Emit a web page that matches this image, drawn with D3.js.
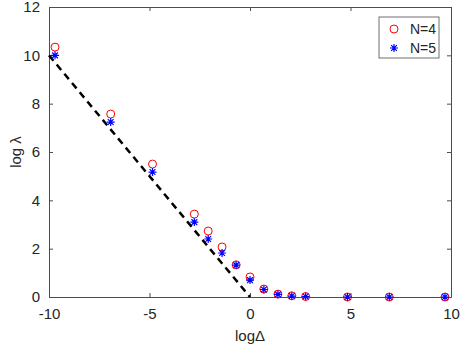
<!DOCTYPE html>
<html>
<head>
<meta charset="utf-8">
<script src="https://cdn.jsdelivr.net/npm/d3@7"></script>
<style>
  body { margin: 0; background: #fff; }
  text { font-family: "Liberation Sans", Arial, sans-serif; fill: #262626; }
</style>
</head>
<body>
<div id="chart"></div>
<script>
// data
var logDelta = [-9.70, -6.93, -4.85, -2.77, -2.08, -1.39, -0.69, 0, 0.69, 1.39, 2.08, 2.77, 4.85, 6.93, 9.70];
var lambdaN4 = [10.34, 7.57, 5.50, 3.43, 2.73, 2.07, 1.33, 0.83, 0.33, 0.12, 0.05, 0.02, 0.0, 0.0, 0.0];
var lambdaN5 = [10.00, 7.24, 5.17, 3.10, 2.40, 1.82, 1.32, 0.70, 0.31, 0.11, 0.04, 0.02, 0.0, 0.0, 0.0];
var slopeLine = [[-10, 10], [0, 0]];
var xTicks = [-10, -5, 0, 5, 10];
var yTicks = [0, 2, 4, 6, 8, 10, 12];

const W = 463, H = 348;
const PLOT_L = 49, PLOT_R = 451, PLOT_T = 7, PLOT_B = 297;
const TICK = 4;
const AXIS_COLOR = '#4d4d4d';
const FONT = '15px';

var svg = d3.select('#chart').append('svg')
            .attr('width', W)
            .attr('height', H);

var x = d3.scaleLinear().domain([-10, 10]).range([PLOT_L, PLOT_R]);
var y = d3.scaleLinear().domain([0, 12]).range([PLOT_B, PLOT_T]);

// plain hyphen minus, like the original
var fmt = d => String(d);

// axes box, ticks inside on all four sides
function styleAxis(g) {
  g.select('.domain').attr('stroke', AXIS_COLOR);
  g.selectAll('.tick line').attr('stroke', AXIS_COLOR);
  g.selectAll('.tick text').style('font-size', FONT).attr('fill', '#262626');
}

svg.append('g')
   .attr('transform', 'translate(0,' + PLOT_B + ')')
   .call(d3.axisBottom(x).tickValues(xTicks).tickFormat(fmt).tickSizeInner(-TICK).tickSizeOuter(0).tickPadding(11))
   .call(styleAxis);

svg.append('g')
   .attr('transform', 'translate(0,' + PLOT_T + ')')
   .call(d3.axisTop(x).tickValues(xTicks).tickSizeInner(-TICK).tickSizeOuter(0).tickFormat(''))
   .call(styleAxis);

svg.append('g')
   .attr('transform', 'translate(' + PLOT_L + ',0)')
   .call(d3.axisLeft(y).tickValues(yTicks).tickFormat(fmt).tickSizeInner(-TICK).tickSizeOuter(0).tickPadding(9))
   .call(styleAxis);

svg.append('g')
   .attr('transform', 'translate(' + PLOT_R + ',0)')
   .call(d3.axisRight(y).tickValues(yTicks).tickSizeInner(-TICK).tickSizeOuter(0).tickFormat(''))
   .call(styleAxis);

// dashed reference line
svg.append('path')
   .datum(slopeLine)
   .attr('d', d3.line().x(d => x(d[0])).y(d => y(d[1])))
   .attr('fill', 'none')
   .attr('stroke', '#000')
   .attr('stroke-width', 2.5)
   .attr('stroke-dasharray', '7,5');

// asterisk marker path
function starPath(r) {
  var d = 'M' + (-r) + ',0L' + r + ',0M0,' + (-r) + 'L0,' + r;
  var k = r * 0.72;
  d += 'M' + (-k) + ',' + (-k) + 'L' + k + ',' + k + 'M' + (-k) + ',' + k + 'L' + k + ',' + (-k);
  return d;
}

// N=4 circles
svg.selectAll('circle.n4').data(logDelta)
   .enter()
   .append('circle')
   .classed('n4', true)
   .attr('cx', d => x(d))
   .attr('cy', (d, i) => y(lambdaN4[i]))
   .attr('r', 4)
   .attr('fill', 'none')
   .attr('stroke', '#ff0000')
   .attr('stroke-width', 1);

// N=5 asterisks
svg.selectAll('path.n5').data(logDelta)
   .enter()
   .append('path')
   .classed('n5', true)
   .attr('transform', (d, i) => 'translate(' + x(d) + ',' + y(lambdaN5[i]) + ')')
   .attr('d', starPath(4))
   .attr('fill', 'none')
   .attr('stroke', '#0000ff')
   .attr('stroke-width', 1.2);

// legend
var legend = svg.append('g').attr('transform', 'translate(379,17)');
legend.append('rect')
      .attr('width', 60)
      .attr('height', 41)
      .attr('fill', '#fff')
      .attr('stroke', AXIS_COLOR)
      .attr('stroke-width', 0.8);
legend.append('circle')
      .attr('cx', 15).attr('cy', 12).attr('r', 4)
      .attr('fill', 'none').attr('stroke', '#ff0000');
legend.append('path')
      .attr('transform', 'translate(15,31)')
      .attr('d', starPath(4))
      .attr('fill', 'none').attr('stroke', '#0000ff').attr('stroke-width', 1.2);
legend.append('text').attr('x', 31).attr('y', 17).style('font-size', '14px').text('N=4');
legend.append('text').attr('x', 31).attr('y', 36).style('font-size', '14px').text('N=5');

// axis labels
svg.append('text')
   .attr('x', (PLOT_L + PLOT_R) / 2)
   .attr('y', 341)
   .attr('text-anchor', 'middle')
   .style('font-size', FONT)
   .text('log\u0394');

svg.append('text')
   .attr('transform', 'translate(21,' + ((PLOT_T + PLOT_B) / 2) + ') rotate(-90)')
   .attr('text-anchor', 'middle')
   .style('font-size', FONT)
   .text('log \u03bb');
</script>
</body>
</html>
